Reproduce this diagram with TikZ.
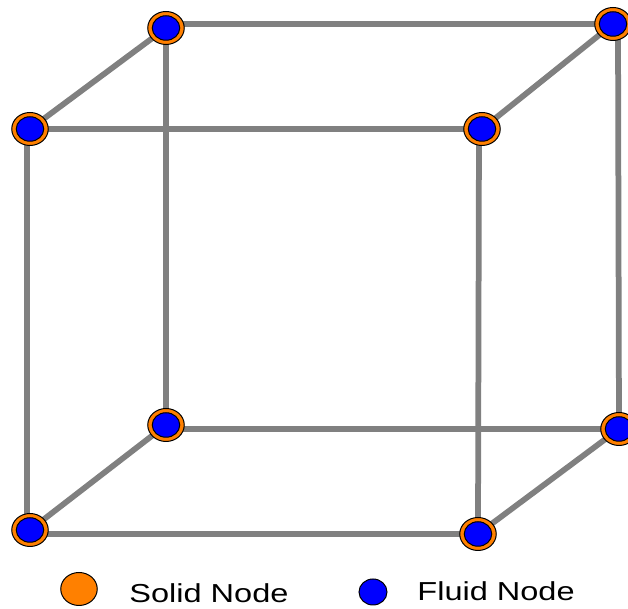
\documentclass[tikz,border=0pt]{standalone}
\usepackage{fontspec}
\setmainfont{Liberation Sans}
\usetikzlibrary{shapes.geometric,backgrounds}
\definecolor{SolidOrange}{HTML}{FF8000}
\definecolor{FluidBlue}{HTML}{0000FF}
\definecolor{Edge}{HTML}{808080}

\begin{document}
\begin{tikzpicture}[
    x=0.2mm,y=-0.2mm,
    solidnode/.style={ellipse,draw=black,line width=0.2mm,fill=SolidOrange,
      minimum width=7.3mm,minimum height=6.6mm,inner sep=0pt},
    fluidnode/.style={ellipse,draw=black,line width=0.2mm,fill=FluidBlue,
      minimum width=5.5mm,minimum height=4.9mm,inner sep=0pt},
    edge/.style={draw=Edge,line width=1.15mm},
    legend/.style={font=\fontsize{14.8}{16}\selectfont,xscale=1.25,anchor=base west,inner sep=0pt}
  ]
    \useasboundingbox (0,0) rectangle (628,609);
    \foreach \name/\x/\y in {btl/166/28,btr/613/24,ftl/30/129,ftr/482/129,
                             bbl/166/425,bbr/619/429,fbl/30/530,fbr/478/534}{
      \node[solidnode] (\name) at (\x,\y) {};
      \node[fluidnode] (\name in) at (\name) {};
    }
    \begin{scope}[on background layer]
      % back face
      \draw[edge] ([yshift=0.8mm]btl.center) -- (btr.center);
      \draw[edge] (btl.center) -- ([yshift=0.8mm]bbl.center);
      \draw[edge] ([yshift=-0.8mm]bbl.center) -- (bbr.center);
      \draw[edge] ([xshift=1mm]btr.center) -- (bbr.center);
      % front face
      \draw[edge] (ftl.center) -- (ftr.center);
      \draw[edge] ([xshift=-0.6mm]ftl.center) -- ([xshift=-0.6mm]fbl.center);
      \draw[edge] ([yshift=-0.8mm]fbl.center) -- (fbr.center);
      \draw[edge] ([xshift=-0.6mm]ftr.center) -- (fbr.center);
      % depth edges
      \draw[edge] (ftl.center) -- (btl.center);
      \draw[edge] (ftr.center) -- (btr.center);
      \draw[edge] (fbl.center) -- (bbl.center);
      \draw[edge] (fbr.center) -- (bbr.center);
    \end{scope}
    \node[solidnode] (solidkey) at (79,589) {};
    \node[legend] (solidtext) at (129,603) {Solid Node};
    \node[fluidnode,minimum width=5.6mm,minimum height=5.2mm] (fluidkey) at (373,592) {};
    \node[legend] (fluidtext) at (417,601) {Fluid Node};
  \end{tikzpicture}
\end{document}
